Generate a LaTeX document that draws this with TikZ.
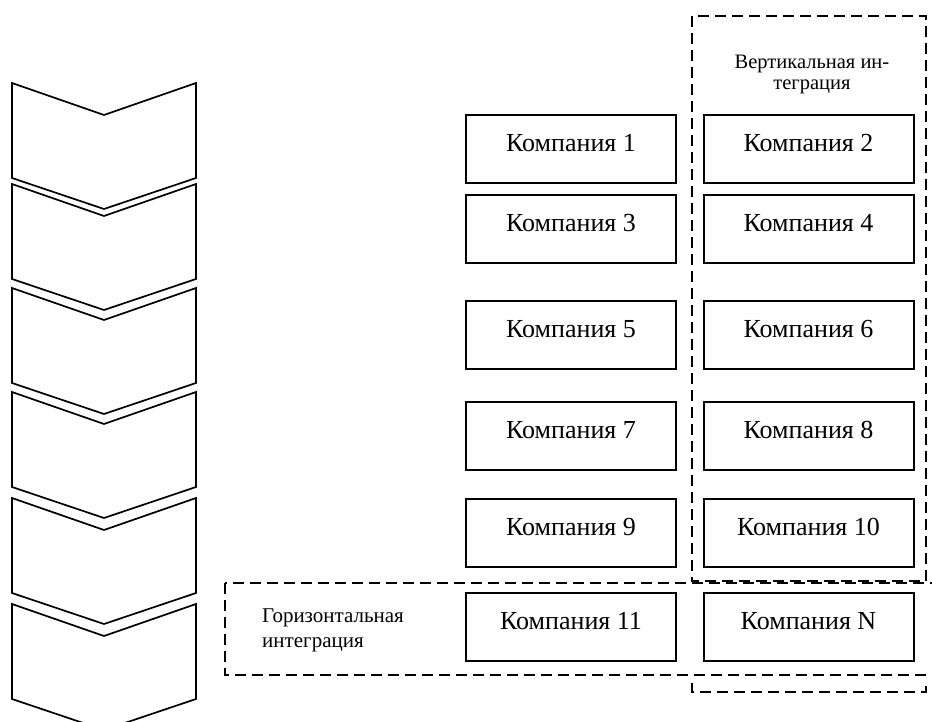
\documentclass[tikz,border=0pt]{standalone}
\usepackage{fontspec}
\setmainfont{Liberation Serif}
\begin{document}
\begin{tikzpicture}[x=1pt,y=-1pt,
  company/.style={draw, line width=2pt, minimum width=210pt, minimum height=68pt,
    inner sep=0pt, text height=20pt, text depth=15pt, font=\fontsize{26}{30}\selectfont},
  chevron/.style={draw, line width=1.7pt, line join=miter},
  integration/.style={draw, line width=2.8pt, dash pattern=on 11pt off 6pt},
  caption/.style={inner sep=0pt}]
\path[use as bounding box] (0,0) rectangle (932,722);
\clip (0,0) rectangle (932,722);
% chevrons
\foreach \t in {83,184,288,392,498,604}{
  \draw[chevron] (12,\t) -- (104,\t+32) -- (196,\t) -- (196,\t+95) -- (104,\t+126) -- (12,\t+95) -- cycle;
}
% companies
\node[company] (c1)  at (571,149.5) {Компания 1};
\node[company] (c2)  at (808.5,149.5) {Компания 2};
\node[company] (c3)  at (571,229) {Компания 3};
\node[company] (c4)  at (808.5,229) {Компания 4};
\node[company] (c5)  at (571,335) {Компания 5};
\node[company] (c6)  at (808.5,335) {Компания 6};
\node[company] (c7)  at (571,435.5) {Компания 7};
\node[company] (c8)  at (808.5,435.5) {Компания 8};
\node[company] (c9)  at (571,532.5) {Компания 9};
\node[company] (c10) at (808.5,532.5) {Компания 10};
\node[company] (c11) at (571,626.5) {Компания 11};
\node[company] (cN)  at (808.5,626.5) {Компания N};
% integration frames
\draw[integration] (692,16) rectangle (926,581);
\draw[integration] (225,583) rectangle (950,675);
\draw[integration] (692,683) -- (692,692) -- (926,692) -- (926,683);
% captions
\node[caption, anchor=north, align=center, font=\fontsize{20.5}{20.5}\selectfont] (vcap) at (812,55) {Вертикальная ин-\\теграция};
\node[caption, anchor=north west, align=left, font=\fontsize{21}{25}\selectfont] (hcap) at (262,609) {Горизонтальная\\интеграция};
\end{tikzpicture}
\end{document}
